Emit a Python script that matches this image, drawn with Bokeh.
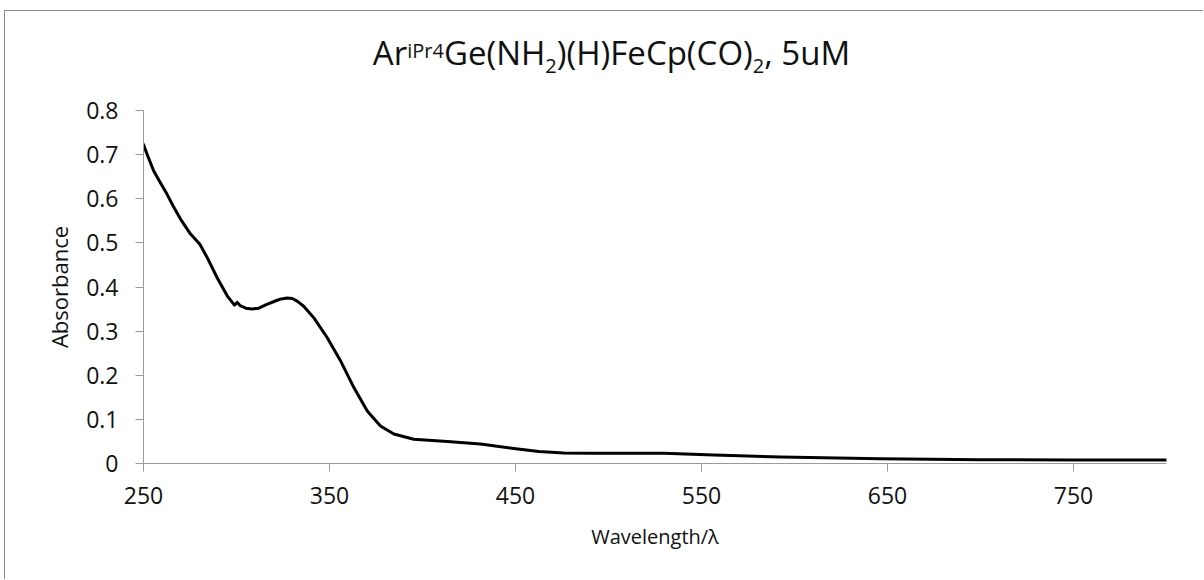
from bokeh.plotting import figure
from bokeh.models import Range1d, FixedTicker, PrintfTickFormatter, Div
from bokeh.layouts import column
from bokeh.embed import file_html
from bokeh.resources import INLINE

# ---------------- data ----------------
wavelength = [250, 252, 255.5, 259, 262.7, 266, 269.9, 275.3, 280.3, 284.2,
              289.6, 295, 298.9, 300.4, 302.2, 305, 308.4, 312, 316, 321.9,
              324, 327.2, 330, 332.6, 336, 341.6, 348.8, 355.9, 363.1, 370.3,
              377.4, 384.6, 395.3, 413.3, 431.2, 449.1, 462.5, 476, 490, 502.9,
              529.8, 556.6, 592.5, 646.2, 700, 750, 800]
absorbance = [0.723, 0.700, 0.663, 0.637, 0.610, 0.583, 0.554, 0.520, 0.497, 0.467,
              0.421, 0.380, 0.359, 0.365, 0.357, 0.352, 0.350, 0.352, 0.360, 0.370,
              0.373, 0.375, 0.374, 0.368, 0.357, 0.330, 0.285, 0.233, 0.172, 0.119,
              0.085, 0.067, 0.055, 0.050, 0.044, 0.034, 0.0272, 0.0238, 0.0232, 0.023,
              0.023, 0.019, 0.015, 0.011, 0.0085, 0.008, 0.0077]

x_ticks = [250, 350, 450, 550, 650, 750]
y_ticks = [0, 0.1, 0.2, 0.3, 0.4, 0.5, 0.6, 0.7, 0.8]

title_main = "Ar"
title_sup = "iPr4"
title_mid = "Ge(NH"
title_sub1 = "2"
title_mid2 = ")(H)FeCp(CO)"
title_sub2 = "2"
title_end = ", 5uM"

x_label = "Wavelength/λ"
y_label = "Absorbance"

# ---------------- style ----------------
FONT = "Open Sans"
TEXT_COLOR = "#111111"
AXIS_COLOR = "#9a9a9a"

X_MIN, X_MAX = 250, 800
Y_MIN, Y_MAX = 0, 0.8

# page layout (pixels)
FRAME_L, FRAME_R, FRAME_T, FRAME_B = 143, 1166, 110, 463
CANVAS_X0, CANVAS_Y0 = 5, 11
TOTAL_W = 1198
DIV_H = 79
FIG_H = 568 - DIV_H
FIG_Y0 = CANVAS_Y0 + DIV_H

sup_style = "font-size:20px;position:relative;top:-7px;line-height:0;"
sub_style = "font-size:20px;position:relative;top:8px;line-height:0;"
title_html = (
    f'<div style="font-family:\'{FONT}\';font-size:33px;line-height:42px;color:{TEXT_COLOR};'
    f'text-align:center;width:{TOTAL_W}px;padding-top:21px;padding-left:15px;box-sizing:border-box;'
    f'white-space:nowrap;">'
    f'{title_main}<span style="{sup_style}">{title_sup}</span>{title_mid}'
    f'<span style="{sub_style}">{title_sub1}</span>{title_mid2}'
    f'<span style="{sub_style}">{title_sub2}</span>{title_end}</div>'
)
title_div = Div(text=title_html, width=TOTAL_W, height=DIV_H, margin=(0, 0, 0, 0))

p = figure(width=TOTAL_W, height=FIG_H, output_backend="svg", toolbar_location=None,
           x_range=Range1d(X_MIN, X_MAX), y_range=Range1d(Y_MIN, Y_MAX),
           min_border_left=FRAME_L - CANVAS_X0,
           min_border_right=CANVAS_X0 + TOTAL_W - FRAME_R,
           min_border_top=FRAME_T - FIG_Y0,
           min_border_bottom=FIG_Y0 + FIG_H - FRAME_B,
           margin=(0, 0, 0, 0))
p.title = None
p.outline_line_color = None
p.xgrid.visible = False
p.ygrid.visible = False
p.background_fill_color = "white"
p.border_fill_color = "white"

p.line(wavelength, absorbance, line_color="black", line_width=3, line_join="round", line_cap="round")

for ax in (p.xaxis[0], p.yaxis[0]):
    ax.axis_line_color = AXIS_COLOR
    ax.axis_line_width = 1
    ax.major_tick_line_color = AXIS_COLOR
    ax.major_tick_in = 0
    ax.major_tick_out = 8
    ax.minor_tick_line_color = None
    ax.major_label_text_font = FONT
    ax.major_label_text_font_size = "23px"
    ax.major_label_text_color = TEXT_COLOR
    ax.axis_label_text_font = FONT
    ax.axis_label_text_font_style = "normal"
    ax.axis_label_text_color = TEXT_COLOR

p.xaxis[0].axis_label_text_font_size = "20px"
p.yaxis[0].axis_label_text_font_size = "22px"
p.xaxis[0].ticker = FixedTicker(ticks=x_ticks)
p.yaxis[0].ticker = FixedTicker(ticks=y_ticks)
p.yaxis[0].formatter = PrintfTickFormatter(format="%g")
p.xaxis[0].major_label_standoff = 15
p.yaxis[0].major_label_standoff = 17
p.xaxis[0].axis_label = x_label
p.yaxis[0].axis_label = y_label
p.xaxis[0].axis_label_standoff = 16
p.yaxis[0].axis_label_standoff = 9

layout = column(title_div, p, spacing=0,
                styles={"margin-left": "4px", "margin-top": "10px",
                        "border-left": "1px solid #8a8a8a", "border-top": "1px solid #8a8a8a",
                        "background-color": "white"})

open("out.html", "w").write(file_html(layout, INLINE))
